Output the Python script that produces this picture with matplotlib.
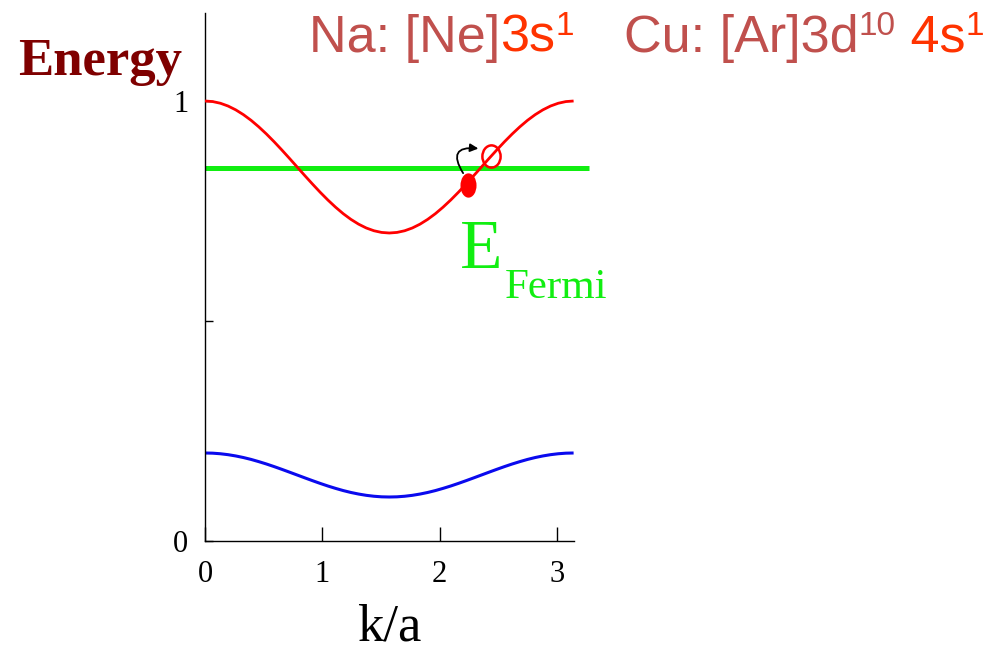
import matplotlib
matplotlib.use("Agg")
import matplotlib.pyplot as plt
from matplotlib.path import Path
from matplotlib.transforms import Affine2D

# ---- data ----
k_vals = [0.0000, 0.0654, 0.1309, 0.1963, 0.2618, 0.3272, 0.3927, 0.4581, 0.5236,
          0.5890, 0.6545, 0.7199, 0.7854, 0.8508, 0.9163, 0.9817, 1.0472, 1.1126,
          1.1781, 1.2435, 1.3090, 1.3744, 1.4399, 1.5053, 1.5708, 1.6362, 1.7017,
          1.7671, 1.8326, 1.8980, 1.9635, 2.0289, 2.0944, 2.1598, 2.2253, 2.2907,
          2.3562, 2.4216, 2.4871, 2.5525, 2.6180, 2.6834, 2.7489, 2.8143, 2.8798,
          2.9452, 3.0107, 3.0761, 3.1416]
upper_band = [1.0000, 0.9987, 0.9949, 0.9886, 0.9799, 0.9690, 0.9561, 0.9413, 0.9250,
              0.9074, 0.8888, 0.8696, 0.8500, 0.8304, 0.8112, 0.7926, 0.7750, 0.7587,
              0.7439, 0.7310, 0.7201, 0.7114, 0.7051, 0.7013, 0.7000, 0.7013, 0.7051,
              0.7114, 0.7201, 0.7310, 0.7439, 0.7587, 0.7750, 0.7926, 0.8112, 0.8304,
              0.8500, 0.8696, 0.8888, 0.9074, 0.9250, 0.9413, 0.9561, 0.9690, 0.9799,
              0.9886, 0.9949, 0.9987, 1.0000]
lower_band = [0.2000, 0.1996, 0.1983, 0.1962, 0.1933, 0.1897, 0.1854, 0.1804, 0.1750,
              0.1691, 0.1629, 0.1565, 0.1500, 0.1435, 0.1371, 0.1309, 0.1250, 0.1196,
              0.1146, 0.1103, 0.1067, 0.1038, 0.1017, 0.1004, 0.1000, 0.1004, 0.1017,
              0.1038, 0.1067, 0.1103, 0.1146, 0.1196, 0.1250, 0.1309, 0.1371, 0.1435,
              0.1500, 0.1565, 0.1629, 0.1691, 0.1750, 0.1804, 0.1854, 0.1897, 0.1933,
              0.1962, 0.1983, 0.1996, 0.2000]
fermi_k = [0.0, 3.27]
fermi_E = [0.848, 0.848]
electron_k, electron_E = [2.24], [0.808]
hole_k, hole_E = [2.44], [0.876]
xticks = [0, 1, 2, 3]
xticklabels = ["0", "1", "2", "3"]
yticks = [0, 0.5, 1]
yticklabels = ["0", "", "1"]

W, H = 997, 652
fig = plt.figure(figsize=(W / 100, H / 100), dpi=100)
ax = fig.add_axes([205 / W, (H - 541) / H, (573.6 - 205) / W, (541 - 13) / H])

RED = "#ff0000"
GREEN = "#11ee11"
BLUE = "#0a0aee"

ax.plot(k_vals, lower_band, color=BLUE, lw=2.2, solid_capstyle="butt")
ax.plot(k_vals, upper_band, color=RED, lw=2.0, solid_capstyle="butt", zorder=3)
ax.plot(fermi_k, fermi_E, color=GREEN, lw=3.6, clip_on=False, zorder=2,
        solid_capstyle="butt")

ell = Path.unit_circle().transformed(Affine2D().scale(0.66, 1.0))
ell2 = Path.unit_circle().transformed(Affine2D().scale(0.82, 1.0))
ax.plot(electron_k, electron_E, linestyle="none", marker=ell, markersize=17.5,
        color=RED, markeredgewidth=0, zorder=4)
ax.plot(hole_k, hole_E, linestyle="none", marker=ell2, markersize=16,
        markerfacecolor="none", markeredgecolor=RED, markeredgewidth=1.8, zorder=4)

ax.annotate("", xy=(hole_k[0] - 0.11, hole_E[0] + 0.016),
            xytext=(electron_k[0] - 0.04, electron_E[0] + 0.028),
            arrowprops=dict(arrowstyle="-|>", color="black", lw=1.3,
                            mutation_scale=12,
                            connectionstyle="arc3,rad=-1.0",
                            shrinkA=0, shrinkB=0), zorder=5)

ax.set_xlim(0, 3.1416)
ax.set_ylim(0, 1.2)
for s in ("top", "right"):
    ax.spines[s].set_visible(False)
for s in ("left", "bottom"):
    ax.spines[s].set_linewidth(1.0)

serif = "Liberation Serif"
ax.set_xticks(xticks)
ax.set_xticklabels(xticklabels, fontsize=22, family=serif)
ax.set_yticks(yticks)
ax.set_yticklabels(yticklabels, fontsize=22, family=serif)
ax.tick_params(axis="x", direction="in", length=10, width=1, pad=14)
ax.tick_params(axis="y", direction="in", length=6, width=1, pad=12)

ax.set_xlabel("k/a", fontsize=38, family=serif, labelpad=10)

# Energy label
fig.text(18 / W, (H - 75) / H, "Energy", fontsize=38, family=serif,
         fontweight="bold", color="#7f0000", ha="left", va="baseline")

# E_Fermi label
fig.text(460 / W, (H - 268) / H, "E", fontsize=50, family=serif, color=GREEN,
         ha="left", va="baseline")
fig.text(505 / W, (H - 298) / H, "Fermi", fontsize=31, family=serif, color=GREEN,
         ha="left", va="baseline")

# electron configuration title, piecewise
fig.canvas.draw()
renderer = fig.canvas.get_renderer()
BROWN = "#c0504d"
ORANGE = "#ff3300"


def place(pieces, x0, base):
    x = x0
    for txt, col, size, rise in pieces:
        t = fig.text(x / W, (H - base + rise) / H, txt, fontsize=size,
                     family="Liberation Sans", color=col, ha="left",
                     va="baseline")
        bb = t.get_window_extent(renderer)
        x = bb.x1


place([("Na: [Ne]", BROWN, 37.5, 0), ("3s", ORANGE, 37.5, 0), ("1", ORANGE, 24, 17)],
      309, 52)
place([("Cu: [Ar]3d", BROWN, 37.5, 0), ("10", BROWN, 24, 17), (" 4s", ORANGE, 37.5, 0),
       ("1", ORANGE, 24, 17)], 624, 52)

fig.savefig("out.png", dpi=100)
